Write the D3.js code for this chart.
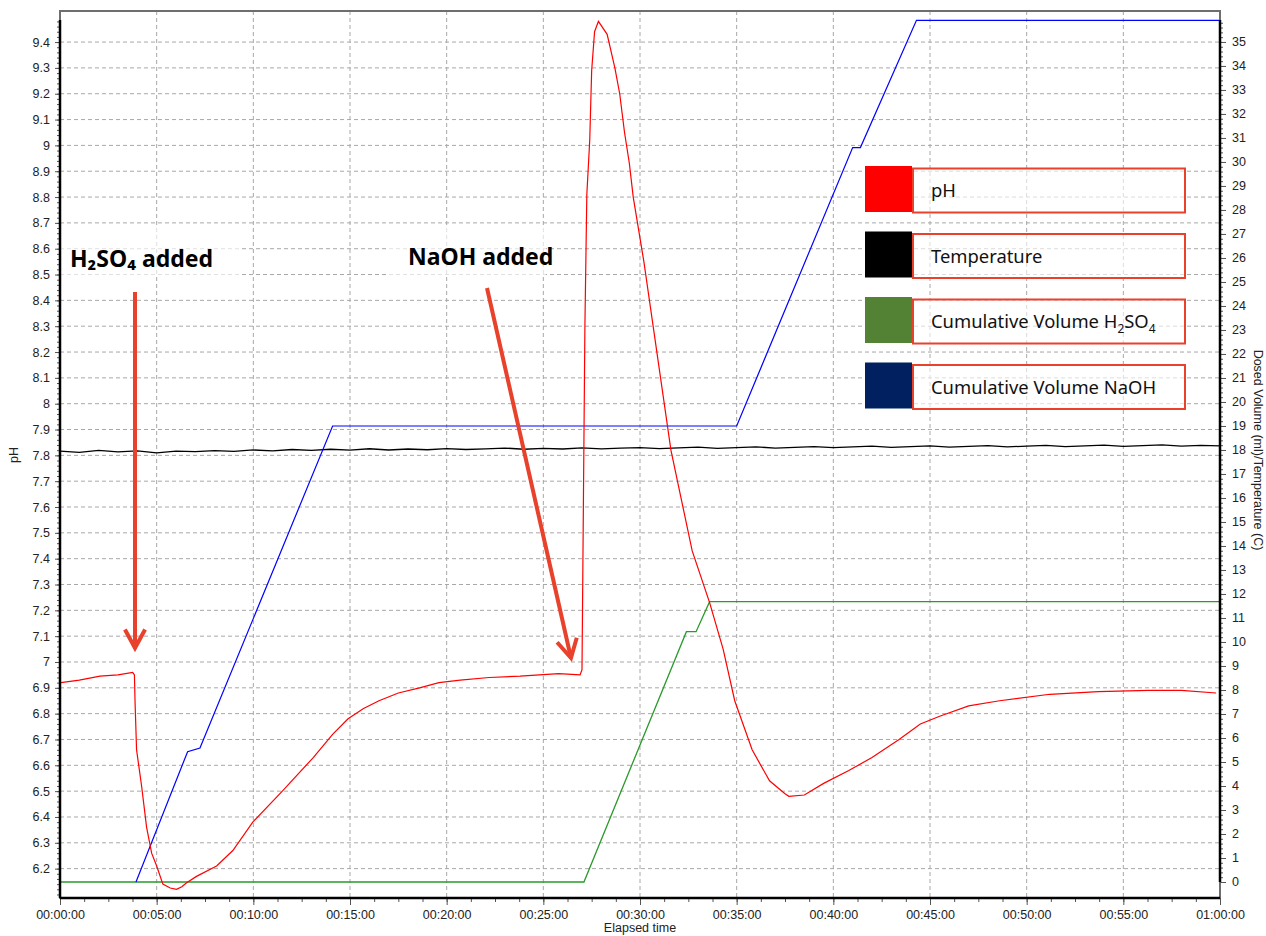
<!DOCTYPE html>
<html>
<head>
<meta charset="utf-8">
<script src="https://cdn.jsdelivr.net/npm/d3@7"></script>
<style>
body{margin:0;background:#fff}
</style>
</head>
<body>
<svg id="chart" width="1266" height="936" font-family='"Liberation Sans",Arial,sans-serif'></svg>
<script>
// elapsed time in minutes, pH
var phTime = [0.05,1.0,2.07,3.0,3.76,3.85,3.88,3.96,4.22,4.48,4.74,5.0,5.32,5.7,6.03,6.3,6.55,7.06,8.1,8.94,9.97,11.5,13.1,14.1,14.9,15.7,16.5,17.5,18.6,19.6,20.7,22.2,23.8,25.8,26.9,27.0,27.15,27.25,27.4,27.5,27.65,27.85,28.3,28.7,28.95,29.2,29.45,29.65,30.2,31.6,32.7,33.6,34.3,34.9,35.8,36.7,37.5,37.7,38.5,39.5,40.8,42.0,43.4,44.5,45.5,47.0,48.6,51.2,53.7,56.3,58.0,59.8]
var phValue = [6.92,6.93,6.945,6.95,6.96,6.95,6.85,6.66,6.52,6.36,6.26,6.21,6.14,6.125,6.12,6.13,6.145,6.17,6.21,6.27,6.38,6.50,6.63,6.72,6.78,6.82,6.85,6.88,6.90,6.92,6.93,6.94,6.945,6.955,6.95,6.97,8.3,8.81,9.02,9.29,9.44,9.48,9.43,9.30,9.20,9.05,8.93,8.80,8.55,7.82,7.43,7.23,7.05,6.85,6.66,6.54,6.49,6.48,6.485,6.53,6.58,6.63,6.70,6.76,6.79,6.83,6.85,6.875,6.885,6.89,6.89,6.88]

var naohTime = [3.93,6.6,7.24,14.1,35.0,41.0,41.4,44.3,60]
var naohVol = [0,5.43,5.58,19.0,19.0,30.6,30.6,35.9,35.9]

var acidTime = [0,27.1,32.4,32.9,33.6,60]
var acidVol = [0,0,10.43,10.43,11.68,11.68]

var tempTime = [0,1,2,3,4,5,6,7,8,9,10,11,12,13,14,15,16,17,18,19,20,21,22,23,24,25,26,27,28,29,30,31,32,33,34,35,36,37,38,39,40,41,42,43,44,45,46,47,48,49,50,51,52,53,54,55,56,57,58,59,60]
var tempValue = [17.95,17.9,17.98,17.92,17.96,17.88,17.95,17.93,17.97,17.94,18.0,17.96,18.02,17.98,18.03,17.99,18.05,18.0,18.04,18.01,18.06,18.02,18.05,18.08,18.03,18.07,18.04,18.09,18.05,18.08,18.1,18.06,18.09,18.12,18.07,18.1,18.13,18.08,18.11,18.14,18.1,18.13,18.16,18.11,18.14,18.17,18.12,18.15,18.18,18.13,18.16,18.19,18.14,18.17,18.2,18.15,18.18,18.21,18.16,18.19,18.17]

var timeTicks = [0,5,10,15,20,25,30,35,40,45,50,55,60]
var timeLabels = ["00:00:00","00:05:00","00:10:00","00:15:00","00:20:00","00:25:00","00:30:00","00:35:00","00:40:00","00:45:00","00:50:00","00:55:00","01:00:00"]
var phTicks = [6.2,6.3,6.4,6.5,6.6,6.7,6.8,6.9,7,7.1,7.2,7.3,7.4,7.5,7.6,7.7,7.8,7.9,8,8.1,8.2,8.3,8.4,8.5,8.6,8.7,8.8,8.9,9,9.1,9.2,9.3,9.4]
var volTicks = [0,1,2,3,4,5,6,7,8,9,10,11,12,13,14,15,16,17,18,19,20,21,22,23,24,25,26,27,28,29,30,31,32,33,34,35]

var legendNames = ["pH","Temperature","Cumulative Volume H","Cumulative Volume NaOH"]
var legendColors = ["#ff0000","#000000","#548235","#002060"]

var svg = d3.select('#chart')
var L = 60, R = 1220, T = 11, B = 898

var x = d3.scaleLinear().domain([0,60]).range([L,R])
var yPH = d3.scaleLinear().domain([6.0863,9.5203]).range([B,T])
var yVol = d3.scaleLinear().domain([-0.667,36.29]).range([B,T])

var arrowCol = '#e8412c'
var noto = '"Noto Sans",sans-serif'

// grid
var grid = svg.append('g')
grid.selectAll('line.h').data(phTicks).enter().append('line')
    .attr('x1', L).attr('x2', R)
    .attr('y1', function(d){return yPH(d)}).attr('y2', function(d){return yPH(d)})
    .attr('stroke', '#a8a8a8').attr('stroke-dasharray', '4,3')
grid.selectAll('line.v').data(timeTicks.slice(1,-1)).enter().append('line')
    .attr('y1', T).attr('y2', B)
    .attr('x1', function(d){return x(d)}).attr('x2', function(d){return x(d)})
    .attr('stroke', '#a8a8a8').attr('stroke-dasharray', '4,3')

// annotation text boxes (semi transparent)
svg.append('rect').attr('x', 56).attr('y', 228).attr('width', 186).attr('height', 48)
    .attr('fill', '#fff').attr('opacity', 0.65)
svg.append('rect').attr('x', 386).attr('y', 228).attr('width', 160).attr('height', 49)
    .attr('fill', '#fff').attr('opacity', 0.65)

// series
function series(times, vals, yScale, color, w){
    var pts = times.map(function(t,i){return [t, vals[i]]})
    svg.append('path').datum(pts)
        .attr('fill', 'none').attr('stroke', color).attr('stroke-width', w)
        .attr('d', d3.line().x(function(d){return x(d[0])}).y(function(d){return yScale(d[1])}))
}
series(tempTime, tempValue, yVol, '#000', 1.3)
series(acidTime, acidVol, yVol, '#2a9a2a', 1.3)
series(naohTime, naohVol, yVol, '#0000ff', 1.2)
series(phTime, phValue, yPH, '#ff0000', 1.2)

// frame
svg.append('rect').attr('x', L).attr('y', T).attr('width', R-L).attr('height', B-T)
    .attr('fill', 'none').attr('stroke', '#6e6e6e').attr('stroke-width', 2)

// axes
var minorPH = d3.range(6.1, 9.49, 0.02)
svg.append('g').attr('transform', 'translate('+L+',0)')
    .call(d3.axisLeft(yPH).tickValues(minorPH).tickSize(3).tickFormat(''))
    .call(function(g){g.select('.domain').remove()})
svg.append('g').attr('transform', 'translate('+L+',0)')
    .call(d3.axisLeft(yPH).tickValues(phTicks).tickSize(5).tickPadding(5)
        .tickFormat(function(d){return String(+d.toFixed(1))}))
    .call(function(g){g.select('.domain').remove()})

var minorVol = d3.range(0, 36, 0.2)
svg.append('g').attr('transform', 'translate('+R+',0)')
    .call(d3.axisRight(yVol).tickValues(minorVol).tickSize(3).tickFormat(''))
    .call(function(g){g.select('.domain').remove()})
svg.append('g').attr('transform', 'translate('+R+',0)')
    .call(d3.axisRight(yVol).tickValues(volTicks).tickSize(6).tickPadding(6))
    .call(function(g){g.select('.domain').remove()})

svg.append('g').attr('transform', 'translate(0,'+B+')')
    .call(d3.axisBottom(x).tickValues(d3.range(0, 60.01, 1.25)).tickSize(4).tickFormat(''))
    .call(function(g){g.select('.domain').remove()})
svg.append('g').attr('transform', 'translate(0,'+B+')')
    .call(d3.axisBottom(x).tickValues(timeTicks).tickSize(7).tickPadding(5)
        .tickFormat(function(d,i){return timeLabels[i]}))
    .call(function(g){g.select('.domain').remove()})

svg.selectAll('.tick text').attr('font-size', 12.5).attr('fill', '#222')
    .attr('font-family', '"Liberation Sans",Arial,sans-serif')
svg.selectAll('.tick line').attr('stroke', '#555')

// black axis lines
svg.append('line').attr('x1', L).attr('x2', L).attr('y1', 20).attr('y2', B)
    .attr('stroke', '#000').attr('stroke-width', 2.5)
svg.append('line').attr('x1', L).attr('x2', R).attr('y1', B).attr('y2', B)
    .attr('stroke', '#000').attr('stroke-width', 2.5)
svg.append('line').attr('x1', R).attr('x2', R).attr('y1', 20).attr('y2', yVol(0))
    .attr('stroke', '#000').attr('stroke-width', 2.5)

// axis titles
svg.append('text').attr('transform', 'translate(18,455) rotate(-90)')
    .attr('text-anchor', 'middle').attr('font-size', 12.5).attr('fill', '#222').text('pH')
svg.append('text').attr('x', 640).attr('y', 932)
    .attr('text-anchor', 'middle').attr('font-size', 12.5).attr('fill', '#222').text('Elapsed time')
svg.append('text').attr('transform', 'translate(1254,450) rotate(90)')
    .attr('text-anchor', 'middle').attr('font-size', 12.5).attr('fill', '#222')
    .text('Dosed Volume (ml)/Temperature (C)')

// annotations
svg.append('text').attr('x', 70).attr('y', 267)
    .style('font-family', noto).attr('font-weight', 'bold').attr('font-size', 23)
    .text('H₂SO₄ added')
svg.append('text').attr('x', 408).attr('y', 265)
    .style('font-family', noto).attr('font-weight', 'bold').attr('font-size', 23)
    .text('NaOH added')

function arrow(x1, y1, x2, y2){
    var a = Math.atan2(y2-y1, x2-x1), len = 21, sp = 0.5
    svg.append('line').attr('x1', x1).attr('y1', y1).attr('x2', x2).attr('y2', y2)
        .attr('stroke', arrowCol).attr('stroke-width', 4)
    svg.append('path')
        .attr('d', 'M'+(x2-len*Math.cos(a-sp))+','+(y2-len*Math.sin(a-sp))
            +' L'+x2+','+y2
            +' L'+(x2-len*Math.cos(a+sp))+','+(y2-len*Math.sin(a+sp)))
        .attr('fill', 'none').attr('stroke', arrowCol).attr('stroke-width', 4)
}
arrow(135, 292, 135, 648)
arrow(487, 288, 571, 658)

// legend
var leg = svg.append('g').selectAll('g').data(legendNames).enter().append('g')
    .attr('transform', function(d,i){return 'translate(865,'+(166+i*65.5)+')'})
leg.append('rect').attr('x', 48).attr('y', 2.5).attr('width', 272).attr('height', 44)
    .attr('fill', '#fff').attr('fill-opacity', 0.6).attr('stroke', arrowCol).attr('stroke-width', 2)
leg.append('rect').attr('width', 47).attr('height', 46)
    .attr('fill', function(d,i){return legendColors[i]})
var lt = leg.append('text').attr('x', 66).attr('y', 31)
    .style('font-family', noto).attr('font-size', 18.4).attr('fill', '#111')
    .text(function(d){return d})
lt.filter(function(d,i){return i == 2}).each(function(){
    var t = d3.select(this)
    t.append('tspan').attr('font-size', 12).attr('dy', 5).text('2')
    t.append('tspan').attr('dy', -5).text('SO')
    t.append('tspan').attr('font-size', 12).attr('dy', 5).text('4')
})
</script>
</body>
</html>
